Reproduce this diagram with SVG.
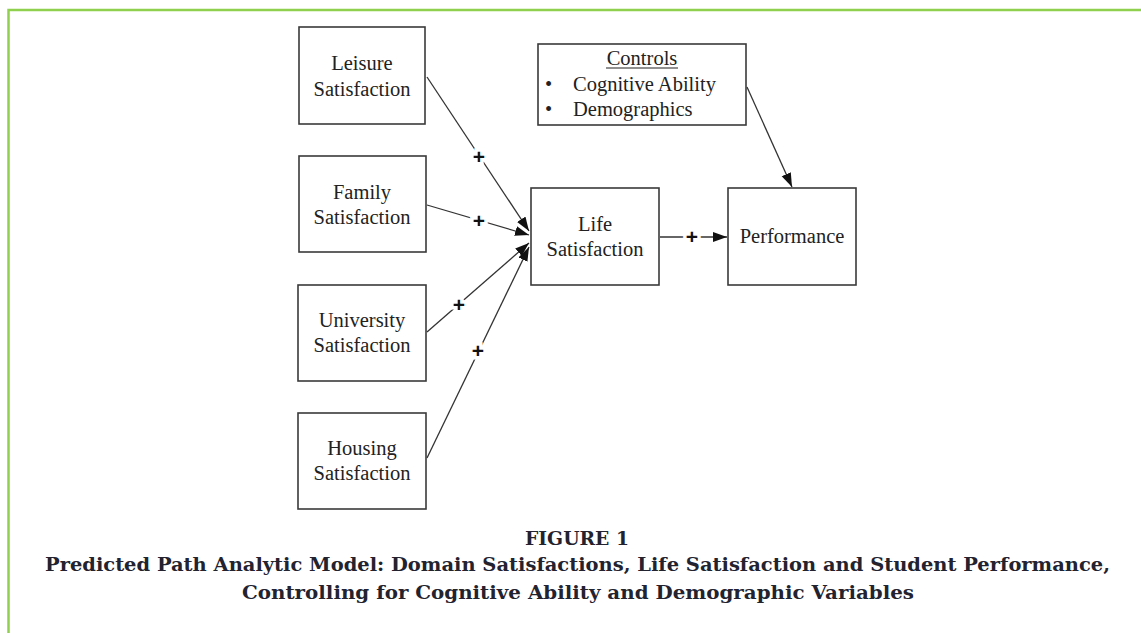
<svg xmlns="http://www.w3.org/2000/svg" width="1141" height="633" viewBox="0 0 1141 633">
<defs>
<style>
.box{fill:#fff;stroke:#3a3a3a;stroke-width:1.6}
.t{font-family:"Liberation Serif","Times New Roman",serif;font-size:20.5px;fill:#222;text-anchor:middle}
.tl{font-family:"Liberation Serif","Times New Roman",serif;font-size:20.5px;fill:#222}
.edge{stroke:#333;stroke-width:1.3;fill:none}
.plus{font-family:"Liberation Sans",Arial,sans-serif;font-size:21px;font-weight:bold;fill:#111;text-anchor:middle;stroke:#fff;stroke-width:7;paint-order:stroke}
.cap{font-family:"DejaVu Serif",serif;font-weight:bold;font-size:19px;fill:#23232f;text-anchor:middle}
</style>
<marker id="ah" markerUnits="userSpaceOnUse" markerWidth="15" markerHeight="11" refX="14" refY="5.5" orient="auto">
<path d="M0,0.5 L14,5.5 L0,10.5 z" fill="#111"/>
</marker>
</defs>
<rect x="0" y="0" width="1141" height="633" fill="#fff"/>
<path d="M8.5,633 L8.5,10 L1141,10" fill="none" stroke="#8fd14f" stroke-width="2.5"/>

<g id="connectors">
<line class="edge" x1="427" y1="77" x2="529" y2="231" marker-end="url(#ah)"/>
<line class="edge" x1="427" y1="205" x2="529" y2="235" marker-end="url(#ah)"/>
<line class="edge" x1="427" y1="332" x2="529" y2="243" marker-end="url(#ah)"/>
<line class="edge" x1="427" y1="458" x2="529" y2="247" marker-end="url(#ah)"/>
<line class="edge" x1="660" y1="237" x2="727" y2="237" marker-end="url(#ah)"/>
<line class="edge" x1="747" y1="87" x2="792" y2="187" marker-end="url(#ah)"/>
<text class="plus" x="479" y="164">+</text>
<text class="plus" x="479" y="228">+</text>
<text class="plus" x="459" y="312">+</text>
<text class="plus" x="478" y="358">+</text>
<text class="plus" x="692" y="244">+</text>
</g>

<g id="leisure">
<rect class="box" x="299" y="27" width="126" height="97"/>
<text class="t" x="362" y="70">Leisure</text>
<text class="t" x="362" y="96">Satisfaction</text>
</g>
<g id="family">
<rect class="box" x="299" y="156" width="127" height="96"/>
<text class="t" x="362" y="199">Family</text>
<text class="t" x="362" y="224">Satisfaction</text>
</g>
<g id="university">
<rect class="box" x="298" y="285" width="128" height="96"/>
<text class="t" x="362" y="327">University</text>
<text class="t" x="362" y="352">Satisfaction</text>
</g>
<g id="housing">
<rect class="box" x="298" y="413" width="128" height="96"/>
<text class="t" x="362" y="455">Housing</text>
<text class="t" x="362" y="480">Satisfaction</text>
</g>
<g id="life">
<rect class="box" x="531" y="188" width="128" height="97"/>
<text class="t" x="595" y="231">Life</text>
<text class="t" x="595" y="256">Satisfaction</text>
</g>
<g id="performance">
<rect class="box" x="728" y="188" width="128" height="97"/>
<text class="t" x="792" y="243">Performance</text>
</g>
<g id="controls">
<rect class="box" x="538" y="44" width="208" height="81"/>
<text class="t" x="642" y="65">Controls</text>
<line x1="606" y1="68" x2="678" y2="68" stroke="#222" stroke-width="1.2"/>
<text class="tl" x="545" y="91">•</text>
<text class="tl" x="573" y="91">Cognitive Ability</text>
<text class="tl" x="545" y="116">•</text>
<text class="tl" x="573" y="116">Demographics</text>
</g>

<g id="caption">
<text class="cap" x="577" y="545" textLength="104" lengthAdjust="spacingAndGlyphs">FIGURE 1</text>
<text class="cap" x="577.5" y="571" textLength="1065" lengthAdjust="spacingAndGlyphs">Predicted Path Analytic Model: Domain Satisfactions, Life Satisfaction and Student Performance,</text>
<text class="cap" x="578" y="599" textLength="672" lengthAdjust="spacingAndGlyphs">Controlling for Cognitive Ability and Demographic Variables</text>
</g>
</svg>
